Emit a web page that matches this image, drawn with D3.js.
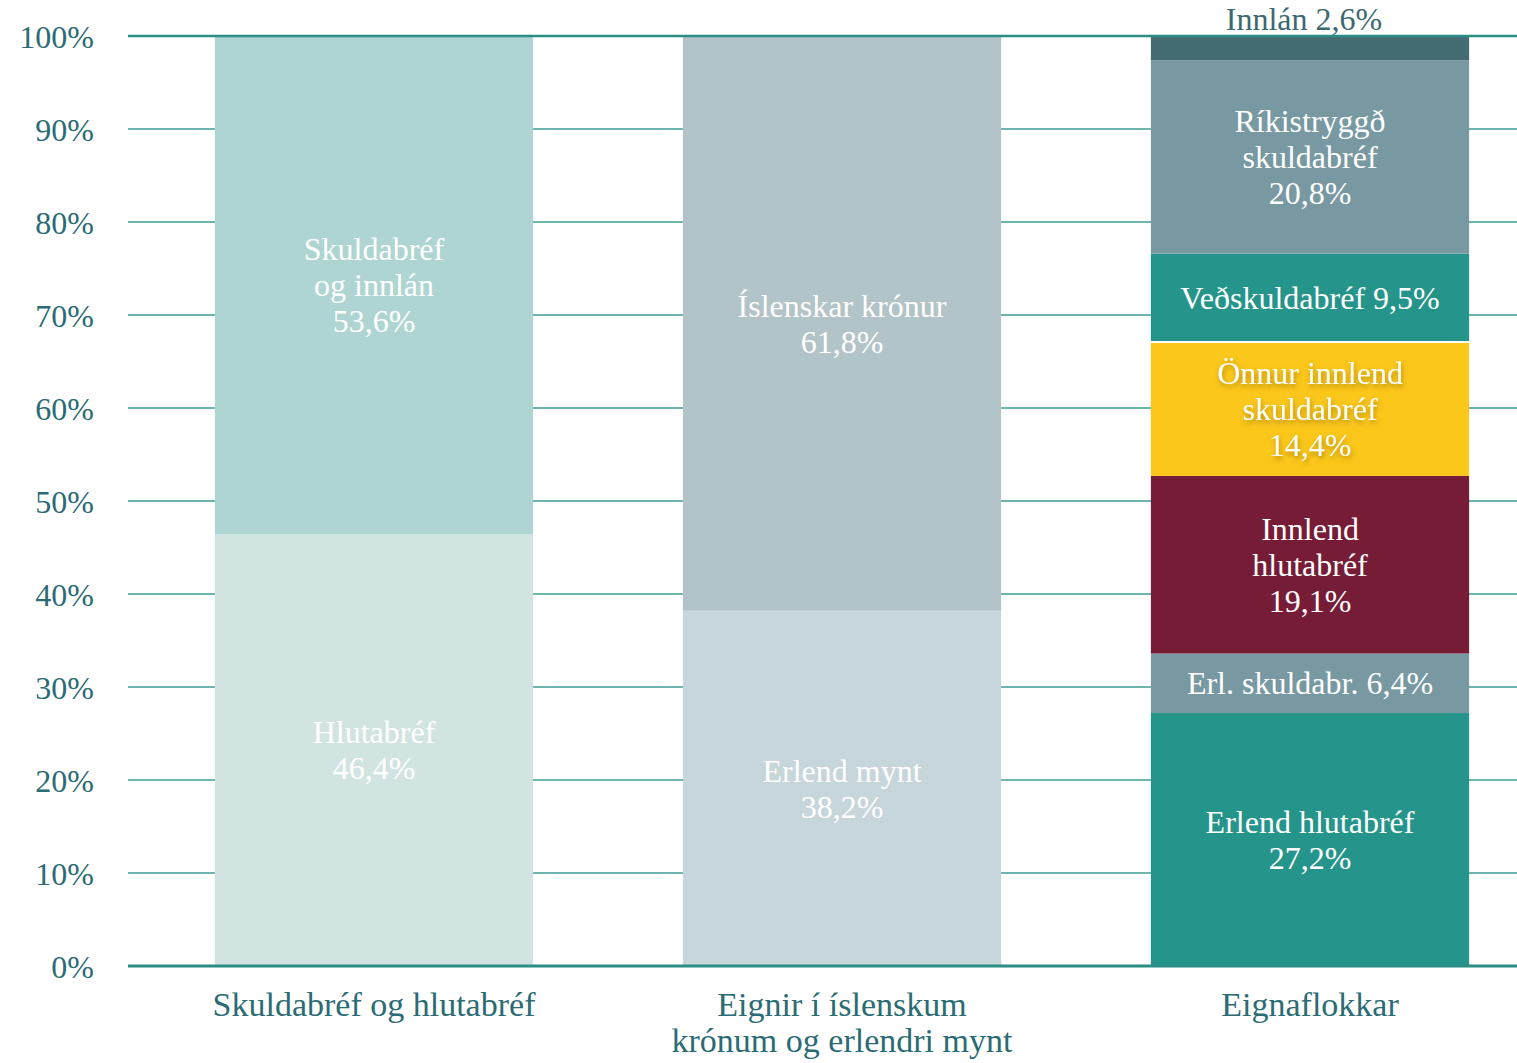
<!DOCTYPE html>
<html>
<head>
<meta charset="utf-8">
<script src="https://cdn.jsdelivr.net/npm/d3@7"></script>
<style>
  body { margin: 0; background: #fff; }
  svg text { font-family: "Liberation Serif", "DejaVu Serif", serif; }
</style>
</head>
<body>
<div id="chart"></div>
<script>

// categories (x axis), "\n" breaks a label into lines
const categories = ["Skuldabréf og hlutabréf", "Eignir í íslenskum\nkrónum og erlendri mynt", "Eignaflokkar"];
const yTicks = [0, 10, 20, 30, 40, 50, 60, 70, 80, 90, 100];

// stacks, listed bottom to top; {v} is replaced by the value
const bondsStocksValues = [46.4, 53.6];
const bondsStocksLabels = ["Hlutabréf\n{v}", "Skuldabréf\nog innlán\n{v}"];
const bondsStocksColors = ["#d2e4e2", "#afd5d2"];

const currencyValues = [38.2, 61.8];
const currencyLabels = ["Erlend mynt\n{v}", "Íslenskar krónur\n{v}"];
const currencyColors = ["#c7d6db", "#b2c4c7"];

const assetValues = [27.2, 6.4, 19.1, 14.4, 9.5, 20.8, 2.6];
const assetLabels = ["Erlend hlutabréf\n{v}", "Erl. skuldabr. {v}", "Innlend\nhlutabréf\n{v}",
                     "Önnur innlend\nskuldabréf\n{v}", "Veðskuldabréf {v}", "Ríkistryggð\nskuldabréf\n{v}", "Innlán {v}"];
const assetColors = ["#25948a", "#7899a2", "#761c36", "#fbc71a", "#25948a", "#7899a2", "#456b73"];

const width = 1517;
const height = 1063;

const locale = d3.formatLocale({ decimal: ",", thousands: ".", grouping: [3], currency: ["", ""] });
const fmt = locale.format(".1f");

const svg = d3.select("#chart").append("svg")
	.attr("width", width)
	.attr("height", height);

const x = d3.scaleBand()
	.domain(categories)
	.range([140, 1544])
	.paddingInner(0.32)
	.paddingOuter(0.16);

const y = d3.scaleLinear()
	.domain([0, 100])
	.range([966, 36]);

// build segments from the arrays
function stackOf(cat, values, labels, colors) {
	let acc = 0;
	return values.map(function(v, i) {
		const seg = { cat: cat, v: v, y0: acc, y1: acc + v, label: labels[i], color: colors[i] };
		acc += v;
		return seg;
	});
}
const segments = [].concat(
	stackOf(categories[0], bondsStocksValues, bondsStocksLabels, bondsStocksColors),
	stackOf(categories[1], currencyValues, currencyLabels, currencyColors),
	stackOf(categories[2], assetValues, assetLabels, assetColors)
);

// gridlines behind bars
svg.append("g")
	.selectAll("line")
	.data(yTicks.filter(function(t) { return t > 0 && t < 100; }))
	.enter().append("line")
		.attr("x1", 128).attr("x2", width)
		.attr("y1", function(d) { return y(d); })
		.attr("y2", function(d) { return y(d); })
		.attr("stroke", "#3d9d93")
		.attr("stroke-width", 1.5);

// y tick labels
svg.append("g")
	.selectAll("text")
	.data(yTicks)
	.enter().append("text")
		.attr("x", 94)
		.attr("y", function(d) { return y(d); })
		.attr("dy", "0.36em")
		.attr("text-anchor", "end")
		.attr("fill", "#2b6b73")
		.style("font-size", "32px")
		.text(function(d) { return d + "%"; });

const defs = svg.append("defs");
defs.append("filter").attr("id", "shadow")
	.attr("x", "-20%").attr("y", "-20%").attr("width", "140%").attr("height", "140%")
	.append("feDropShadow")
		.attr("dx", 1).attr("dy", 3).attr("stdDeviation", 2.5)
		.attr("flood-color", "#7a5a00").attr("flood-opacity", 0.55);

// bars
svg.append("g")
	.selectAll("rect")
	.data(segments)
	.enter().append("rect")
		.attr("x", function(d) { return x(d.cat); })
		.attr("width", x.bandwidth())
		.attr("y", function(d) { return y(d.y1); })
		.attr("height", function(d) { return y(d.y0) - y(d.y1); })
		.attr("fill", function(d) { return d.color; });

// white separator above the yellow block
svg.append("g")
	.selectAll("line")
	.data(segments.filter(function(d) { return d.color === "#fbc71a"; }))
	.enter().append("line")
		.attr("x1", function(d) { return x(d.cat); })
		.attr("x2", function(d) { return x(d.cat) + x.bandwidth(); })
		.attr("y1", function(d) { return y(d.y1); })
		.attr("y2", function(d) { return y(d.y1); })
		.attr("stroke", "#fff")
		.attr("stroke-width", 2);

// 0% and 100% lines on top
svg.append("g")
	.selectAll("line")
	.data([0, 100])
	.enter().append("line")
		.attr("x1", 128).attr("x2", width)
		.attr("y1", function(d) { return y(d); })
		.attr("y2", function(d) { return y(d); })
		.attr("stroke", "#2b8d83")
		.attr("stroke-width", function(d) { return d === 0 ? 3 : 2.5; });

// segment labels
const lineH = 36;
const labels = svg.append("g")
	.selectAll("text")
	.data(segments)
	.enter().append("text")
		.attr("text-anchor", "middle")
		.attr("fill", function(d) { return (y(d.y0) - y(d.y1)) < 30 ? "#3e6870" : "#fff"; })
		.attr("filter", function(d) { return d.color === "#fbc71a" ? "url(#shadow)" : null; })
		.style("font-size", "32px");

labels.each(function(d) {
	const lines = d.label.replace("{v}", fmt(d.v) + "%").split("\n");
	const small = (y(d.y0) - y(d.y1)) < 30;
	const cx = x(d.cat) + x.bandwidth() / 2 - (small ? 6 : 0);
	const cy = small ? y(100) - 17 : (y(d.y0) + y(d.y1)) / 2;
	const first = cy - (lines.length - 1) * lineH / 2;
	d3.select(this).selectAll("tspan")
		.data(lines)
		.enter().append("tspan")
			.attr("x", cx)
			.attr("y", function(l, i) { return first + i * lineH; })
			.attr("dy", "0.35em")
			.text(function(l) { return l; });
});

// category labels
const cats = svg.append("g")
	.selectAll("text")
	.data(categories)
	.enter().append("text")
		.attr("text-anchor", "middle")
		.attr("fill", "#2b6b73")
		.style("font-size", "34px");

cats.each(function(c) {
	const cx = x(c) + x.bandwidth() / 2;
	d3.select(this).selectAll("tspan")
		.data(c.split("\n"))
		.enter().append("tspan")
			.attr("x", cx)
			.attr("y", function(l, i) { return 1006 + i * 36; })
			.attr("dy", "0.3em")
			.text(function(l) { return l; });
});

</script>
</body>
</html>
